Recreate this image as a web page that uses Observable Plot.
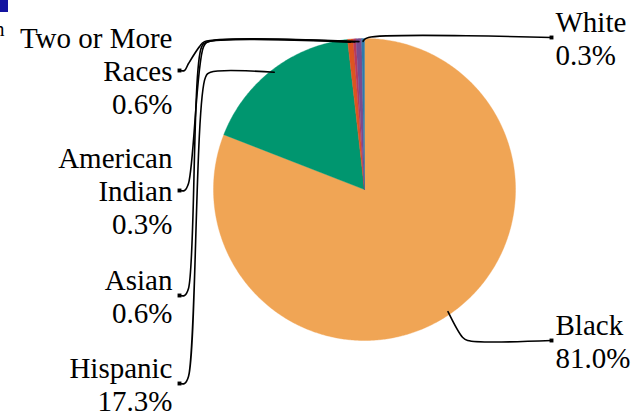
<!DOCTYPE html>
<html><head><meta charset="utf-8">
<script src="https://cdn.jsdelivr.net/npm/d3@7"></script>
<script src="https://cdn.jsdelivr.net/npm/@observablehq/plot@0.6"></script>
<style>body{margin:0;background:#fff;} svg{display:block;}</style>
</head><body><div id="chart"></div>
<script>
// ---- data ----
const categories = ["Black", "Hispanic", "Asian", "American Indian", "Two or More Races", "White"];
const values = [81.0, 17.3, 0.6, 0.3, 0.6, 0.3];
const labelLines = [["Black"], ["Hispanic"], ["Asian"], ["American", "Indian"], ["Two or More", "Races"], ["White"]];
const colors = ["#F0A555", "#00966F", "#DD5420", "#B83A5C", "#7A4B8E", "#2E7AAA"];

// ---- layout (not data) ----
const W = 631, H = 414, cx = 364, cy = 189, R = 151;
const labelSide = ["right", "left", "left", "left", "left", "right"];
const labelAnchorY = [340, 383, 295, 190, 70, 37];
const topElbowX = [null, 205, 201, 203, 199, null];
const leftDotX = 179, leftTextX = 172, rightDotX = 551, rightTextX = 555;

const arcs = d3.pie().sort(null).value(d => d)(values);
const pt = (a, r) => [cx + r * Math.sin(a), cy - r * Math.cos(a)];

// slice polygons
const slicePts = [];
arcs.forEach((a, i) => {
  const n = Math.max(2, Math.ceil((a.endAngle - a.startAngle) / 0.01));
  slicePts.push({cat: categories[i], x: cx, y: cy});
  for (let k = 0; k <= n; k++) {
    const [x, y] = pt(a.startAngle + (a.endAngle - a.startAngle) * k / n, R);
    slicePts.push({cat: categories[i], x, y});
  }
  slicePts.push({cat: categories[i], x: cx, y: cy});
});

// leaders and labels
const leaderPts = [], dots = [], leftLabels = [], rightLabels = [];
arcs.forEach((a, i) => {
  const mid = (a.startAngle + a.endAngle) / 2;
  const [tx, ty] = pt(mid, R * 0.98);
  const ay = labelAnchorY[i];
  const cat = categories[i];
  const text = labelLines[i].join("\n") + "\n" + values[i].toFixed(1) + "%";
  let path;
  if (labelSide[i] === "left") {
    const ex = topElbowX[i];
    path = [[leftDotX, ay], [leftDotX + 5, ay], [leftDotX + 9, ay - 7], [ex, ty + 5], [ex + 5, ty], [tx, ty]];
    dots.push({x: leftDotX, y: ay});
    leftLabels.push({x: leftTextX, y: ay, text});
  } else {
    const ex = tx + Math.abs(ay - ty) * 0.58;
    path = [[tx, ty], [ex - 2, ay + (ty < ay ? -3 : 3)], [ex + 3, ay], [rightDotX, ay]];
    dots.push({x: rightDotX, y: ay});
    rightLabels.push({x: rightTextX, y: ay, text});
  }
  path.forEach(([x, y]) => leaderPts.push({cat, x, y}));
});

// cropped fragments visible at the top-left edge of the reference
const fragRects = [{x1: 0, x2: 8, y1: 0, y2: 12}];
const fragTexts = [{x: 4, y: 35, text: "n"}];

const font = "'Liberation Serif', 'Times New Roman', serif";
const textOpts = {x: "x", y: "y", text: "text", lineAnchor: "middle", lineHeight: 1.14, fontSize: 29, fontFamily: font, fill: "#000"};
const chart = Plot.plot({
  width: W, height: H,
  margin: 0,
  x: {domain: [0, W], range: [0, W], axis: null},
  y: {domain: [0, H], range: [0, H], axis: null},
  color: {domain: categories, range: colors},
  style: {background: "#fff"},
  marks: [
    Plot.line(slicePts, {x: "x", y: "y", z: "cat", fill: "cat", stroke: "cat", strokeWidth: 0.4, curve: "linear"}),
    Plot.line(leaderPts, {x: "x", y: "y", z: "cat", stroke: "#000", strokeWidth: 1.6, curve: "catmull-rom"}),
    Plot.dot(dots, {x: "x", y: "y", r: 2.2, symbol: "square", fill: "#000", stroke: "none"}),
    Plot.text(leftLabels, {...textOpts, textAnchor: "end"}),
    Plot.text(rightLabels, {...textOpts, textAnchor: "start"}),
    Plot.rect(fragRects, {x1: "x1", x2: "x2", y1: "y1", y2: "y2", fill: "#1414A0"}),
    Plot.text(fragTexts, {x: "x", y: "y", text: "text", textAnchor: "end", lineAnchor: "bottom", fontSize: 20, fontFamily: font, fill: "#000"})
  ]
});
document.getElementById("chart").appendChild(chart);
</script>
</body></html>
